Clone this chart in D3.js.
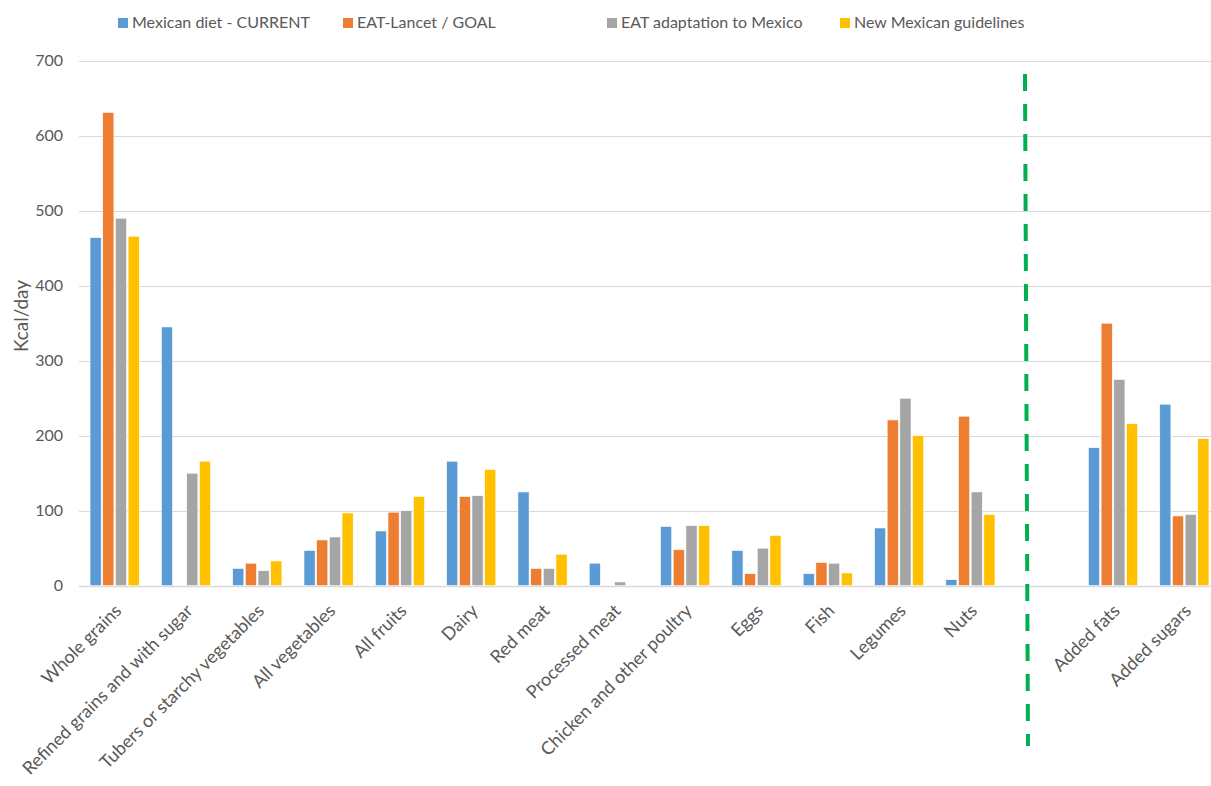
<!DOCTYPE html>
<html>
<head>
<meta charset="utf-8">
<script src="https://cdn.jsdelivr.net/npm/d3@7"></script>
<style>
  body { margin: 0; background: #fff; }
  text { font-family: Lato, "Open Sans", sans-serif; fill: #595959; }
</style>
</head>
<body>
<script>
const svgW = 1211;
const svgH = 786;

// categories (" " is the empty slot where the dashed divider sits)
const categories = ['Whole grains', 'Refined grains and with sugar', 'Tubers or starchy vegetables',
  'All vegetables', 'All fruits', 'Dairy', 'Red meat', 'Processed meat', 'Chicken and other poultry',
  'Eggs', 'Fish', 'Legumes', 'Nuts', ' ', 'Added fats', 'Added sugars'];
const seriesNames = ['Mexican diet - CURRENT', 'EAT-Lancet / GOAL', 'EAT adaptation to Mexico', 'New Mexican guidelines'];
const current   = [464, 345, 23, 47, 73, 166, 125, 30, 79, 47, 16, 77, 8, null, 184, 242];
const eatLancet = [631, 0, 30, 61, 98, 119, 23, 0, 48, 16, 31, 221, 226, null, 350, 93];
const eatMexico = [490, 150, 20, 65, 100, 120, 23, 5, 80, 50, 30, 250, 125, null, 275, 95];
const newGuide  = [466, 166, 33, 97, 119, 155, 42, 0, 80, 67, 17, 200, 95, null, 216, 196];
const yTicks = [0, 100, 200, 300, 400, 500, 600, 700];
const colors = ['#5B9BD5', '#ED7D31', '#A5A5A5', '#FFC000'];

const allSeries = [current, eatLancet, eatMexico, newGuide];

const svg = d3.select('body').append('svg')
  .attr('width', svgW)
  .attr('height', svgH);

const xScale = d3.scaleBand()
  .domain(categories)
  .range([79, 1220])
  .paddingInner(0.31)
  .paddingOuter(0.155);

const xInner = d3.scaleBand()
  .domain(d3.range(seriesNames.length))
  .range([0, xScale.bandwidth()])
  .paddingInner(0.12);

const yScale = d3.scaleLinear()
  .domain([0, 700])
  .range([585.7, 60.7]);

// gridlines
svg.append('g')
  .selectAll('line')
  .data(yTicks)
  .enter()
  .append('line')
  .attr('x1', 79)
  .attr('x2', svgW)
  .attr('y1', d => Math.round(yScale(d)) + 0.5)
  .attr('y2', d => Math.round(yScale(d)) + 0.5)
  .attr('stroke', '#d9d9d9')
  .attr('stroke-width', d => d === 0 ? 1.5 : 1);

// y axis labels
const yAxis = d3.axisLeft(yScale).tickValues(yTicks).tickSize(0).tickPadding(0);
svg.append('g')
  .attr('transform', 'translate(63,0)')
  .call(yAxis)
  .call(g => g.select('.domain').remove())
  .call(g => g.selectAll('text').style('font-size', '16px').attr('fill', '#595959')
    .style('font-family', 'Lato, sans-serif'));

svg.append('text')
  .attr('transform', 'translate(28,316) rotate(-90)')
  .attr('text-anchor', 'middle')
  .style('font-size', '19px')
  .text('Kcal/day');

// bars
const rows = categories.map((c, i) => ({ cat: c, vals: allSeries.map(s => s[i]) }));
const groups = svg.append('g')
  .selectAll('g')
  .data(rows)
  .enter()
  .append('g')
  .attr('transform', d => `translate(${xScale(d.cat)},0)`);

groups.selectAll('rect')
  .data(d => d.vals.map((v, k) => ({ v, k })).filter(e => e.v))
  .enter()
  .append('rect')
  .attr('x', e => xInner(e.k))
  .attr('y', e => yScale(e.v))
  .attr('width', xInner.bandwidth())
  .attr('height', e => yScale(0) - yScale(e.v))
  .attr('fill', e => colors[e.k])
  .attr('stroke', '#fff')
  .attr('stroke-width', 0.6);

// category labels
const xAxis = d3.axisBottom(xScale).tickSize(0).tickPadding(0);
svg.append('g')
  .attr('transform', 'translate(0,603)')
  .call(xAxis)
  .call(g => g.select('.domain').remove())
  .call(g => g.selectAll('text')
    .style('font-size', '18px')
    .style('font-family', 'Lato, sans-serif')
    .attr('fill', '#595959')
    .attr('text-anchor', 'end')
    .attr('dy', '0.7em')
    .attr('transform', 'translate(-1,0) rotate(-45)'));

// dashed divider in the empty slot
const divX = xScale(' ') + 0.16 * xScale.bandwidth();
svg.append('line')
  .attr('x1', divX)
  .attr('x2', divX + 3)
  .attr('y1', 74)
  .attr('y2', 746)
  .attr('stroke', '#00B050')
  .attr('stroke-width', 4)
  .attr('stroke-dasharray', '17,13');

// legend
const legendX = [118, 343, 607, 840];
const legend = svg.append('g')
  .selectAll('g')
  .data(seriesNames)
  .enter()
  .append('g')
  .attr('transform', (d, i) => `translate(${legendX[i]},18)`);

legend.append('rect')
  .attr('width', 10)
  .attr('height', 10)
  .attr('fill', (d, i) => colors[i]);

legend.append('text')
  .attr('x', 14)
  .attr('y', 10)
  .style('font-size', '16px')
  .text(d => d);
</script>
</body>
</html>
